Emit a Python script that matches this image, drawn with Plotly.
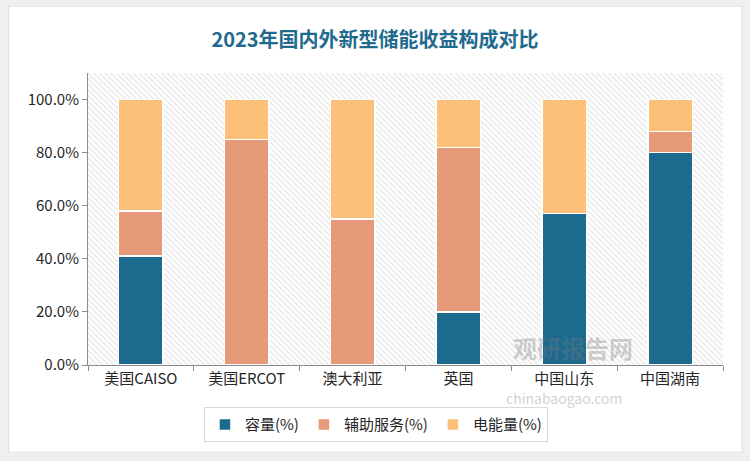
import plotly.graph_objects as go

categories = ["美国CAISO", "美国ERCOT", "澳大利亚", "英国", "中国山东", "中国湖南"]
capacity = [41, 0, 0, 20, 57, 80]
ancillary = [17, 85, 55, 62, 0, 8]
energy = [42, 15, 45, 18, 43, 12]
series_names = ["容量(%)", "辅助服务(%)", "电能量(%)"]
colors = ["#1c6b8f", "#e79a7a", "#fdc078"]
y_ticks = [0, 20, 40, 60, 80, 100]

FONT = "Noto Sans CJK SC"

fig = go.Figure()

# hatched plot background (decoration) on hidden base axes
fig.add_trace(go.Scatter(
    x=[0, 1, 1, 0, 0], y=[0, 0, 1, 1, 0], xaxis="x", yaxis="y",
    mode="lines", line=dict(width=0), fill="toself",
    fillcolor="white",
    fillpattern=dict(shape="\\", fgcolor="#c9c9c9", bgcolor="#ffffff", size=4, solidity=0.3),
    hoverinfo="skip", showlegend=False,
))

for name, vals, c in zip(series_names, [capacity, ancillary, energy], colors):
    fig.add_trace(go.Bar(
        x=categories, y=vals, name=name, xaxis="x2", yaxis="y2",
        marker=dict(color=c, line=dict(color="white", width=1.5)),
        width=0.42,
    ))

fig.update_layout(
    width=750, height=461,
    barmode="stack",
    paper_bgcolor="#efefef",
    plot_bgcolor="rgba(0,0,0,0)",
    margin=dict(l=88, r=27, t=73, b=96),
    font=dict(family=FONT, size=15, color="#262626"),
    title=dict(text="2023年国内外新型储能收益构成对比", x=0.5, xanchor="center",
               y=0.913, yanchor="middle",
               font=dict(family=FONT, size=20, color="#1f6a8d", weight="bold")),
    xaxis=dict(range=[0, 1], visible=False, fixedrange=True),
    yaxis=dict(range=[0, 1], visible=False, fixedrange=True),
    xaxis2=dict(overlaying="x", side="bottom", showline=True, linecolor="#8c8c8c", linewidth=1,
                ticks="outside", ticklen=5, tickcolor="#8c8c8c", tickson="boundaries",
                tickfont=dict(size=15, color="#262626"), showgrid=False),
    yaxis2=dict(overlaying="y", side="left", range=[0, 110], tickvals=y_ticks,
                ticktext=[f"{v:.1f}%" for v in y_ticks],
                showline=True, linecolor="#8c8c8c", linewidth=1,
                ticks="outside", ticklen=5, tickcolor="#8c8c8c",
                showgrid=False, zeroline=False,
                tickfont=dict(size=15, color="#262626")),
    legend=dict(orientation="h", x=0.4535, xanchor="center", y=-0.205, yanchor="middle",
                bordercolor="#d9d9d9", borderwidth=1, bgcolor="white",
                font=dict(size=15, color="#262626"), traceorder="normal"),
    shapes=[
        dict(type="rect", xref="paper", yref="paper", x0=-0.126, x1=1.031, y0=-0.3, y1=1.23,
             fillcolor="#e2e2e2", line=dict(width=0), layer="below"),
        dict(type="rect", xref="paper", yref="paper", x0=-0.124, x1=1.029, y0=-0.297, y1=1.227,
             fillcolor="white", line=dict(width=0), layer="below"),
    ],
    annotations=[
        dict(text="观研报告网", xref="paper", yref="paper", x=0.861, y=0.06, yanchor="middle",
             showarrow=False,
             font=dict(size=24, color="rgba(120,120,120,0.35)", weight="bold")),
        dict(text="chinabaogao.com", xref="paper", yref="paper", x=0.846, y=-0.113, yanchor="middle",
             showarrow=False,
             font=dict(size=14, color="rgba(120,120,120,0.35)")),
    ],
)

fig.write_html("out.html")
